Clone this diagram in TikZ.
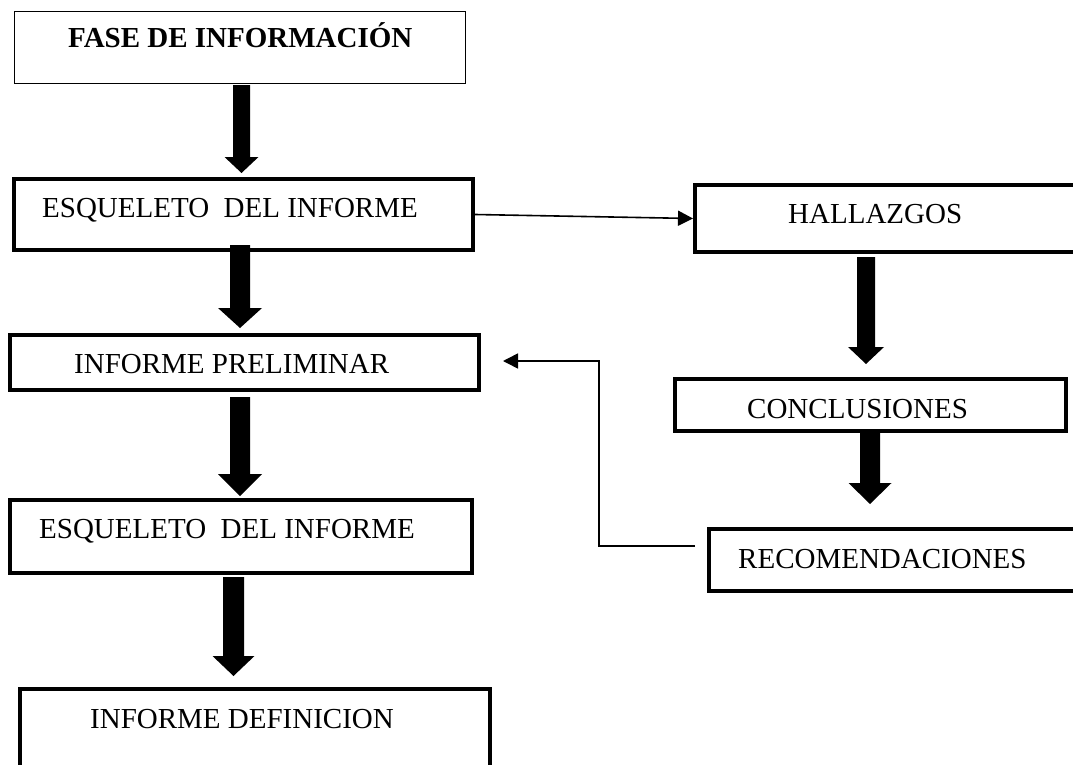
\documentclass[tikz,border=0pt]{standalone}
\usepackage{fontspec}
\setmainfont{Liberation Serif}
\usetikzlibrary{calc,arrows.meta}
\tikzset{
  boxthick/.style={draw=black, line width=4pt, rectangle, inner sep=0pt},
  boxthin/.style={draw=black, line width=1.4pt, rectangle, inner sep=0pt},
  lbl/.style={inner sep=0pt, anchor=base west, font=\fontsize{29}{35}\selectfont},
  thinarr/.style={draw=black, line width=1.6pt, -{Triangle[width=15pt,length=15pt]}},
}
\newcommand\blkarrow[5]{\fill[black] let \p1=#1, \p2=#2 in
  (\x1-#3pt,\y1) -- (\x1+#3pt,\y1) -- (\x1+#3pt,\y2+#5pt) -- (\x1+#4pt,\y2+#5pt)
  -- (\x1,\y2) -- (\x1-#4pt,\y2+#5pt) -- (\x1-#3pt,\y2+#5pt) -- cycle;}
\begin{document}
\begin{tikzpicture}[x=1pt,y=-1pt]
\useasboundingbox (0,0) rectangle (1073,765);
\fill[white] (0,0) rectangle (1073,765);
\clip (0,0) rectangle (1073,765);

% boxes
\node[boxthin, minimum width=451pt, minimum height=72pt] (f1) at (240,47.5) {};
\node[boxthick, minimum width=459pt, minimum height=71pt] (e1) at (243.5,214.5) {};
\node[boxthick, minimum width=469pt, minimum height=55pt] (ip) at (244.5,362.5) {};
\node[boxthick, minimum width=462pt, minimum height=73pt] (e2) at (241,536.5) {};
\node[boxthick, minimum width=470pt, minimum height=111pt] (def) at (255,744.5) {};
\node[boxthick, minimum width=405pt, minimum height=67pt] (hal) at (897.5,218.5) {};
\node[boxthick, minimum width=391pt, minimum height=52pt] (conc) at (870.5,405) {};
\node[boxthick, minimum width=391pt, minimum height=62pt] (rec) at (904.5,560) {};

% labels
\node[lbl, font=\fontsize{29}{35}\selectfont\bfseries] (t1) at (68,48) {FASE DE INFORMACIÓN};
\node[lbl] (t2) at (42,217) {ESQUELETO\ \ DEL INFORME};
\node[lbl] (t3) at (74,373) {INFORME PRELIMINAR};
\node[lbl] (t4) at (39,538) {ESQUELETO\ \ DEL INFORME};
\node[lbl] (t5) at (90,728) {INFORME DEFINICION};
\node[lbl] (t6) at (788,223) {HALLAZGOS};
\node[lbl] (t7) at (747,418) {CONCLUSIONES};
\node[lbl] (t8) at (738,568) {RECOMENDACIONES};

% block arrows
\blkarrow{($(f1.south)+(1.5,1)$)}{($(f1.south |- e1.north)+(1.5,-4)$)}{8.5}{17}{16}
\blkarrow{($(e1.south)+(-3.5,-7)$)}{($(e1.south |- ip.north)+(-3.5,-5)$)}{10}{22}{20}
\blkarrow{($(ip.south)+(-4.5,5)$)}{($(ip.south |- e2.north)+(-4.5,-2)$)}{10}{22}{22}
\blkarrow{($(e2.south)+(-7.5,2)$)}{($(e2.south |- def.north)+(-7.5,-11)$)}{10.5}{21}{20}
\blkarrow{($(hal.south)+(-31.5,3)$)}{($(hal.south |- conc.north)+(-31.5,-13)$)}{9}{18}{17}
\blkarrow{($(conc.south)+(-0.5,0)$)}{($(conc.south |- rec.north)+(-0.5,-23)$)}{10}{21.5}{21}

% thin arrows
\draw[thinarr] (e1.east) -- (hal.west);
\coordinate (fbstart) at ($(rec.west)+(-12,-14)$);
\coordinate (fbtip) at ($(ip.east)+(22,-1.5)$);
\draw[thinarr] (fbstart) -| ($(fbtip)+(96,0)$) -- (fbtip);
\end{tikzpicture}
\end{document}
